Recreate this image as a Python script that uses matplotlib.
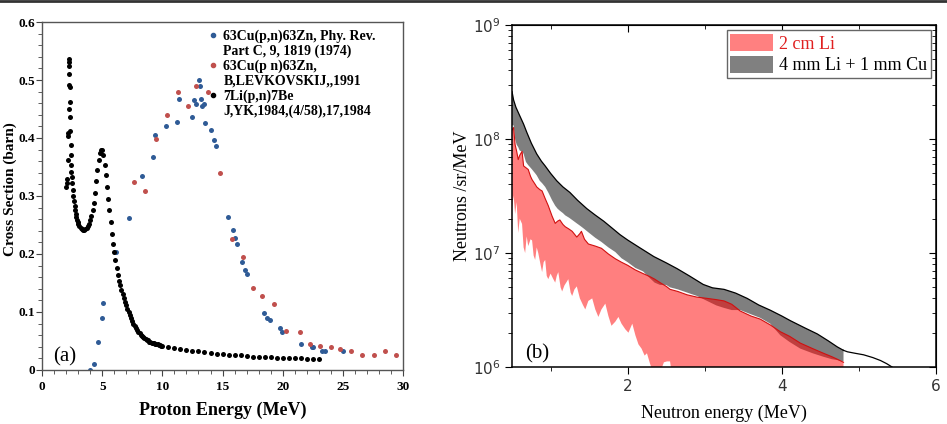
import numpy as np
import matplotlib
matplotlib.use("Agg")
import matplotlib.pyplot as plt
from matplotlib.lines import Line2D
from matplotlib.patches import Patch
from matplotlib.ticker import (MultipleLocator, LogLocator, LogFormatterMathtext,
                               NullFormatter, FuncFormatter)

# ---- panel (a): cross sections ----
cu74_x = [3.96, 4.32, 4.63, 4.99, 5.10, 6.15, 7.20, 8.28, 9.20, 9.36, 10.33, 11.25, 11.39, 12.49,
          12.60, 12.83, 13.05, 13.13, 13.18, 13.32, 13.49, 13.57, 14.02, 14.27, 14.43, 15.43, 15.87,
          16.04, 16.20, 16.65, 16.84, 17.00, 18.48, 18.73, 18.98, 19.75, 19.95, 21.50, 22.40, 22.55,
          23.30, 23.50, 25.00]
cu74_y = [0.000, 0.010, 0.049, 0.089, 0.115, 0.204, 0.262, 0.335, 0.367, 0.405, 0.421, 0.427, 0.467,
          0.437, 0.465, 0.459, 0.500, 0.489, 0.467, 0.455, 0.458, 0.425, 0.413, 0.396, 0.387, 0.264,
          0.242, 0.228, 0.218, 0.187, 0.173, 0.166, 0.099, 0.089, 0.086, 0.072, 0.066, 0.044, 0.040,
          0.039, 0.033, 0.033, 0.032]

cu91_x = [7.67, 8.59, 9.50, 10.42, 11.30, 12.13, 12.77, 13.82, 14.82, 15.82, 16.70, 17.53, 18.28,
          19.25, 20.25, 21.40, 22.24, 23.13, 23.99, 24.79, 25.70, 26.62, 27.59, 28.48, 29.45]
cu91_y = [0.324, 0.309, 0.398, 0.440, 0.480, 0.456, 0.490, 0.479, 0.339, 0.225, 0.195, 0.141, 0.128,
          0.114, 0.067, 0.065, 0.044, 0.042, 0.039, 0.036, 0.032, 0.026, 0.025, 0.033, 0.025]

li_x = [2.02, 2.04, 2.08, 2.12, 2.14, 2.16, 2.20, 2.22, 2.24, 2.25, 2.26, 2.28, 2.30, 2.32, 2.34,
        2.36, 2.38, 2.40, 2.42, 2.44, 2.46, 2.50, 2.55, 2.60, 2.65, 2.70, 2.75, 2.80, 2.85, 2.90,
        2.95, 3.00, 3.10, 3.20, 3.30, 3.40, 3.50, 3.60, 3.70, 3.80, 3.90, 4.00, 4.10, 4.20, 4.30,
        4.40, 4.50, 4.60, 4.70, 4.80, 4.90, 5.00, 5.10, 5.20, 5.30, 5.40, 5.50, 5.60, 5.70, 5.80,
        5.90, 6.00, 6.10, 6.20, 6.30, 6.40, 6.50, 6.60, 6.70, 6.80, 6.90, 7.00, 7.10, 7.20, 7.30,
        7.40, 7.50, 7.60, 7.70, 7.80, 7.90, 8.00, 8.10, 8.20, 8.30, 8.40, 8.50, 8.60, 8.70, 8.80,
        8.90, 9.00, 9.10, 9.20, 9.30, 9.40, 9.50, 9.60, 9.70, 9.80, 9.90, 10.00, 10.50, 11.00,
        11.50, 12.00, 12.50, 13.00, 13.50, 14.00, 14.50, 15.00, 15.50, 16.00, 16.50, 17.00, 17.50,
        18.00, 18.50, 19.00, 19.50, 20.00, 20.50, 21.00, 21.50, 22.00, 22.50, 23.00]
li_y = [0.316, 0.322, 0.330, 0.362, 0.404, 0.408, 0.450, 0.491, 0.524, 0.531, 0.537, 0.510, 0.488,
        0.462, 0.436, 0.412, 0.388, 0.370, 0.353, 0.342, 0.333, 0.322, 0.310, 0.300, 0.291, 0.282,
        0.275, 0.269, 0.264, 0.259, 0.255, 0.252, 0.248, 0.245, 0.243, 0.242, 0.242, 0.243, 0.245,
        0.248, 0.252, 0.258, 0.266, 0.276, 0.288, 0.305, 0.325, 0.345, 0.362, 0.374, 0.380, 0.379,
        0.370, 0.354, 0.336, 0.315, 0.295, 0.275, 0.255, 0.235, 0.218, 0.203, 0.190, 0.176, 0.164,
        0.154, 0.146, 0.138, 0.131, 0.124, 0.118, 0.112, 0.106, 0.100, 0.095, 0.090, 0.085, 0.080,
        0.076, 0.072, 0.069, 0.066, 0.063, 0.061, 0.059, 0.057, 0.055, 0.053, 0.052, 0.051, 0.049,
        0.048, 0.047, 0.046, 0.046, 0.045, 0.044, 0.044, 0.043, 0.043, 0.042, 0.042, 0.040, 0.038,
        0.036, 0.034, 0.033, 0.032, 0.031, 0.029, 0.028, 0.027, 0.026, 0.025, 0.025, 0.024, 0.023,
        0.023, 0.022, 0.022, 0.021, 0.021, 0.020, 0.020, 0.020, 0.019, 0.019, 0.019]

legend_lines = ["63Cu(p,n)63Zn, Phy. Rev.", "Part C, 9, 1819 (1974)",
                "63Cu(p n)63Zn,", "B,LEVKOVSKIJ,,1991",
                "7Li(p,n)7Be", "J,YK,1984,(4/58),17,1984"]

# ---- panel (b): neutron spectra ----
gray_top_x = [0.50, 0.52, 0.55, 0.60, 0.65, 0.69, 0.75, 0.82, 0.88, 0.93, 1.00, 1.08, 1.16, 1.25,
              1.35, 1.47, 1.58, 1.69, 1.80, 1.90, 2.00, 2.15, 2.34, 2.50, 2.64, 2.80, 2.98, 3.10,
              3.25, 3.40, 3.55, 3.70, 3.85, 4.00, 4.11, 4.30, 4.46, 4.60, 4.72, 4.80]
gray_top_y = [2.6e8, 2.2e8, 1.9e8, 1.6e8, 1.35e8, 1.15e8, 9.2e7, 7.4e7, 6.4e7, 5.8e7, 5.0e7, 4.3e7,
              3.8e7, 3.4e7, 2.9e7, 2.45e7, 2.15e7, 1.9e7, 1.65e7, 1.45e7, 1.3e7, 1.12e7, 9.3e6,
              8.2e6, 7.3e6, 6.3e6, 5.3e6, 4.95e6, 4.8e6, 4.45e6, 4.0e6, 3.5e6, 3.15e6, 2.8e6,
              2.55e6, 2.2e6, 1.95e6, 1.7e6, 1.5e6, 1.4e6]
tail_x = [4.80, 4.85, 4.95, 5.06, 5.18, 5.28, 5.36, 5.43, 5.47]
tail_y = [1.4e6, 1.36e6, 1.32e6, 1.28e6, 1.21e6, 1.14e6, 1.07e6, 1.0e6, 9.5e5]

band_x = [0.50, 0.52, 0.54, 0.56, 0.58, 0.60, 0.63, 0.65, 0.68, 0.71, 0.74, 0.76, 0.80, 0.82, 0.86,
          0.89, 0.93, 0.97, 1.02, 1.06, 1.09, 1.12, 1.16, 1.19, 1.24, 1.28, 1.34, 1.38, 1.40, 1.44,
          1.49, 1.58, 1.66, 1.75, 1.84, 1.92, 2.00, 2.10, 2.20, 2.29, 2.35, 2.42, 2.50, 2.55, 2.65,
          2.77, 2.90, 3.03, 3.15, 3.25, 3.35, 3.46, 3.60, 3.72, 3.85, 3.98, 4.10, 4.24, 4.40, 4.54,
          4.65, 4.72, 4.80]
red_top_y = [1.2e8, 1.26e8, 8.9e7, 7.8e7, 6.6e7, 7.2e7, 7.8e7, 5.8e7, 5.6e7, 5.4e7, 4.7e7, 4.4e7,
             4.0e7, 3.8e7, 3.6e7, 3.5e7, 3.0e7, 2.6e7, 2.1e7, 1.82e7, 1.9e7, 1.95e7, 1.78e7,
             1.7e7, 1.62e7, 1.55e7, 1.38e7, 1.48e7, 1.55e7, 1.32e7, 1.2e7, 1.15e7, 1.1e7, 9.8e6,
             8.9e6, 8.3e6, 7.8e6, 7.1e6, 6.6e6, 6.2e6, 5.9e6, 5.5e6, 5.1e6, 4.8e6, 4.6e6, 4.3e6,
             4.1e6, 4.0e6, 3.9e6, 3.8e6, 3.55e6, 3.1e6, 2.8e6, 2.63e6, 2.34e6, 2.04e6, 1.86e6,
             1.62e6, 1.45e6, 1.32e6, 1.23e6, 1.17e6, 1.1e6]
gray_low_y = [1.32e8, 1.32e8, 1.0e8, 8.9e7, 8.5e7, 7.9e7, 7.8e7, 7.4e7, 6.3e7, 5.9e7, 5.6e7, 5.4e7,
              5.0e7, 4.8e7, 4.3e7, 4.1e7, 3.8e7, 3.4e7, 2.9e7, 2.6e7, 2.45e7, 2.35e7, 2.24e7,
              2.14e7, 2.04e7, 1.95e7, 1.82e7, 1.74e7, 1.70e7, 1.62e7, 1.52e7, 1.36e7, 1.25e7,
              1.12e7, 1.02e7, 9.0e6, 8.3e6, 7.4e6, 6.9e6, 6.0e6, 5.5e6, 5.25e6, 5.25e6, 5.0e6,
              4.8e6, 4.5e6, 4.2e6, 3.8e6, 3.47e6, 3.3e6, 3.16e6, 3.16e6, 2.9e6, 2.7e6, 2.4e6,
              1.9e6, 1.66e6, 1.45e6, 1.32e6, 1.23e6, 1.17e6, 1.15e6, 1.12e6]

red_bot_x = [0.50, 0.52, 0.54, 0.56, 0.58, 0.60, 0.63, 0.65, 0.67, 0.69, 0.71, 0.74, 0.76, 0.78,
             0.80, 0.82, 0.84, 0.87, 0.89, 0.91, 0.93, 0.95, 0.97, 1.00, 1.03, 1.06, 1.08, 1.10,
             1.13, 1.15, 1.18, 1.21, 1.23, 1.26, 1.28, 1.31, 1.34, 1.38, 1.42, 1.45, 1.49, 1.54,
             1.58, 1.62, 1.66, 1.71, 1.75, 1.79, 1.84, 1.88, 1.92, 1.97, 2.01, 2.06, 2.10, 2.14,
             2.18, 2.22, 2.25, 2.29, 2.33, 2.38, 2.43, 2.47, 2.51, 2.55, 2.57, 2.62, 4.80]
red_bot_y = [2.5e7, 3.2e7, 2.2e7, 2.8e7, 1.5e7, 2.0e7, 1.8e7, 1.12e7, 1.0e7, 1.4e7, 1.15e7, 1.32e7,
             1.29e7, 9.5e6, 8.7e6, 1.12e7, 1.0e7, 7.9e6, 6.8e6, 8.3e6, 8.7e6, 6.3e6, 5.9e6, 6.6e6,
             6.0e6, 5.5e6, 6.3e6, 6.8e6, 5.0e6, 4.6e6, 5.2e6, 5.6e6, 5.9e6, 4.5e6, 4.2e6, 4.8e6,
             5.1e6, 4.0e6, 3.5e6, 3.2e6, 3.8e6, 4.0e6, 3.2e6, 2.75e6, 3.2e6, 3.6e6, 2.8e6, 2.3e6,
             2.5e6, 2.75e6, 2.4e6, 2.14e6, 2.0e6, 2.4e6, 1.9e6, 1.58e6, 1.45e6, 1.26e6, 1.32e6,
             1.07e6, 8.9e5, 7.9e5, 9.3e5, 1.1e6, 1.12e6, 1.12e6, 8.9e5, 7.9e5, 7.9e5]

serif = "Liberation Serif"

fig = plt.figure(figsize=(9.47, 4.24), dpi=100)
fig.add_artist(Line2D([0, 1], [0.997, 0.997], transform=fig.transFigure, color="#333333", lw=2))

# ---------- (a) ----------
ax1 = fig.add_axes([0.0444, 0.1274, 0.3812, 0.8207])
ms = 3.6
colors_a = ["#2f5b96", "#c0504d", "black"]
ax1.plot(cu74_x, cu74_y, "o", color=colors_a[0], ms=ms, mew=0)
ax1.plot(cu91_x, cu91_y, "o", color=colors_a[1], ms=ms, mew=0)
ax1.plot(li_x, li_y, "o", color=colors_a[2], ms=ms, mew=0)
ax1.set_xlim(0, 30)
ax1.set_ylim(0, 0.6)
ax1.xaxis.set_major_locator(MultipleLocator(5))
ax1.xaxis.set_minor_locator(MultipleLocator(1))
ax1.yaxis.set_major_locator(MultipleLocator(0.1))
ax1.yaxis.set_minor_locator(MultipleLocator(0.02))
ax1.yaxis.set_major_formatter(FuncFormatter(lambda v, p: "0" if abs(v) < 1e-9 else f"{v:.1f}"))
ax1.tick_params(which="both", direction="out", color="#444444", pad=1)
ax1.tick_params(which="major", length=4)
ax1.tick_params(which="minor", length=3)
ax1.tick_params(axis="x", pad=4)
for lab in ax1.get_xticklabels() + ax1.get_yticklabels():
    lab.set_fontfamily(serif)
    lab.set_fontweight("bold")
    lab.set_fontsize(9.5)
for s in ax1.spines.values():
    s.set_color("#555555")
    s.set_linewidth(1.0)
ax1.set_xlabel("Proton Energy (MeV)", family=serif, weight="bold", fontsize=13, labelpad=6)
ax1.set_ylabel("Cross Section (barn)", family=serif, weight="bold", fontsize=11)
ax1.yaxis.set_label_coords(-0.07, 0.52)
ax1.text(0.03, 0.025, "(a)", transform=ax1.transAxes, family=serif, fontsize=15)

# legend: marker only on the first line of each two-line entry
leg_handles = []
for c in colors_a:
    leg_handles.append(Line2D([], [], ls="none", marker="o", color=c, ms=3))
    leg_handles.append(Line2D([], [], ls="none", marker="none"))
ax1.legend(leg_handles, legend_lines, loc="upper right", bbox_to_anchor=(0.94, 0.995),
           frameon=False, prop={"family": serif, "weight": "bold", "size": 10},
           handlelength=0.5, handletextpad=0.5, labelspacing=0.12, borderaxespad=0.0)

# ---------- (b) ----------
ax2 = fig.add_axes([0.5407, 0.1344, 0.4477, 0.8066])
ax2.set_yscale("log")
ax2.fill(np.concatenate([gray_top_x, band_x[::-1]]),
         np.concatenate([gray_top_y, gray_low_y[::-1]]),
         color="black", alpha=0.5, lw=0)
ax2.fill(np.concatenate([band_x, red_bot_x[::-1]]),
         np.concatenate([red_top_y, red_bot_y[::-1]]),
         color="red", alpha=0.5, lw=0)
ax2.plot(band_x, red_top_y, color="#d01010", lw=0.8)
ax2.plot(gray_top_x, gray_top_y, color="black", lw=0.9)
ax2.plot(tail_x, tail_y, color="black", lw=0.9)
ax2.set_xlim(0.5, 6)
ax2.set_ylim(1e6, 1e9)
ax2.xaxis.set_major_locator(MultipleLocator(2))
ax2.xaxis.set_minor_locator(MultipleLocator(1))
ax2.yaxis.set_major_locator(LogLocator(base=10))
ax2.yaxis.set_minor_locator(LogLocator(base=10, subs=np.arange(2, 10)))
ax2.yaxis.set_minor_formatter(NullFormatter())
ax2.yaxis.set_major_formatter(LogFormatterMathtext())
ax2.tick_params(which="both", direction="out", labelsize=11, labelcolor="#333333")
ax2.tick_params(which="major", length=5)
ax2.tick_params(which="minor", length=3)
for s in ax2.spines.values():
    s.set_linewidth(1.1)
topax = ax2.secondary_xaxis("top")
topax.xaxis.set_major_locator(MultipleLocator(2))
topax.xaxis.set_minor_locator(MultipleLocator(1))
topax.tick_params(which="both", direction="in", labeltop=False)
topax.tick_params(which="major", length=5)
topax.tick_params(which="minor", length=3)
rax = ax2.secondary_yaxis("right")
rax.set_yscale("log")
rax.yaxis.set_major_locator(LogLocator(base=10))
rax.yaxis.set_minor_locator(LogLocator(base=10, subs=np.arange(2, 10)))
rax.tick_params(which="both", direction="in", labelright=False)
rax.tick_params(which="major", length=5)
rax.tick_params(which="minor", length=3)
ax2.set_xlabel("Neutron energy (MeV)", family=serif, fontsize=13, labelpad=8)
ax2.set_ylabel("Neutrons /sr/MeV", family=serif, fontsize=13, labelpad=1)
ax2.text(0.03, 0.025, "(b)", transform=ax2.transAxes, family=serif, fontsize=15)
handles = [Patch(facecolor=(1, 0.5, 0.5), edgecolor="none"),
           Patch(facecolor=(0.5, 0.5, 0.5), edgecolor="none")]
leg2 = ax2.legend(handles, ["2 cm Li", "4 mm Li + 1 mm Cu"], loc="upper right",
                  prop={"family": serif, "size": 13}, fancybox=False, edgecolor="#666666",
                  handlelength=2.4, handleheight=1.1, handletextpad=0.3, labelspacing=0.15,
                  borderpad=0.2, borderaxespad=0.3, framealpha=1)
leg2.get_frame().set_linewidth(1.0)
leg2.get_texts()[0].set_color("#e02020")

fig.savefig("out.png", dpi=100)
